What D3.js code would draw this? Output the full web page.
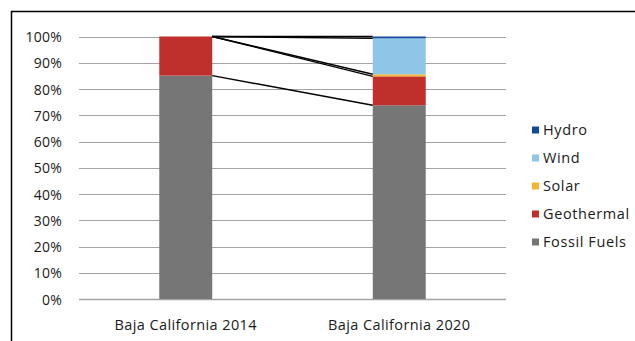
<!DOCTYPE html>
<html>
<head>
<meta charset="utf-8">
<script src="https://cdn.jsdelivr.net/npm/d3@7"></script>
<style>
  html, body { margin: 0; padding: 0; background: #fff; }
  svg { display: block; }
  text { font-family: "Open Sans", Lato, sans-serif; fill: #1a1a1a; }
</style>
</head>
<body>
<svg id="chart" width="635" height="341"></svg>
<script>
// Generation mix shares (%) for Baja California
const categories = ["Baja California 2014", "Baja California 2020"];
const seriesNames = ["Fossil Fuels", "Geothermal", "Solar", "Wind", "Hydro"];
const fossilFuels = [85.1, 73.8];
const geothermal = [14.9, 11.0];
const solar = [0.0, 0.8];
const wind = [0.0, 13.7];
const hydro = [0.0, 0.7];
const yTicks = [0, 10, 20, 30, 40, 50, 60, 70, 80, 90, 100];
const colors = ["#767676", "#bf2f2b", "#f6b334", "#8fc6e7", "#114a9c"];

const rows = categories.map((c, i) => ({
  category: c,
  "Fossil Fuels": fossilFuels[i],
  "Geothermal": geothermal[i],
  "Solar": solar[i],
  "Wind": wind[i],
  "Hydro": hydro[i]
}));

const svg = d3.select("#chart");
const margin = { left: 79, right: 129, top: 36.5, bottom: 42 };
const W = 635, H = 341;
const FONT = "'Open Sans', Lato, sans-serif";

const x = d3.scaleBand().domain(categories)
  .range([margin.left, W - margin.right]).paddingInner(0.752).paddingOuter(0.376);
const y = d3.scaleLinear().domain([0, 100]).range([H - margin.bottom, margin.top]);
const color = d3.scaleOrdinal().domain(seriesNames).range(colors);

// outer frame (top and left edges of the chart box)
svg.append("path")
  .attr("d", "M11.5,341 V11.5 H635")
  .attr("fill", "none").attr("stroke", "#000").attr("stroke-width", 1.5);

// horizontal gridlines
svg.append("g").selectAll("line").data(yTicks).join("line")
  .attr("x1", margin.left).attr("x2", W - margin.right)
  .attr("y1", d => Math.round(y(d)) + 0.5).attr("y2", d => Math.round(y(d)) + 0.5)
  .attr("stroke", "#a3a3a3").attr("stroke-width", d => d === 0 ? 1.5 : 1.2);

// y axis labels
const yAxis = d3.axisLeft(y).tickValues(yTicks).tickSize(0).tickPadding(0)
  .tickFormat(d => d + "%");
svg.append("g").attr("transform", `translate(${margin.left - 17},0)`).call(yAxis)
  .call(g => g.select(".domain").remove())
  .call(g => g.selectAll("text").attr("font-size", 14).attr("dy", "0.36em")
    .style("font-family", FONT).style("letter-spacing", "0.2px").attr("fill", "#1a1a1a"));

// stacked bars
const stacked = d3.stack().keys(seriesNames)(rows);
svg.append("g").selectAll("g").data(stacked).join("g")
  .attr("fill", d => color(d.key))
  .selectAll("rect").data(d => d).join("rect")
  .attr("x", d => x(d.data.category))
  .attr("width", x.bandwidth())
  .attr("y", d => y(d[1]))
  .attr("height", d => Math.max(0, y(d[0]) - y(d[1])));

// series lines joining the top of each segment between the bars
const lineGroup = svg.append("g");
stacked.forEach(s => {
  lineGroup.append("line")
    .attr("x1", x(categories[0]) + x.bandwidth())
    .attr("y1", y(s[0][1]))
    .attr("x2", x(categories[1]))
    .attr("y2", y(s[1][1]))
    .attr("stroke", "#000").attr("stroke-width", 1.4);
});

// category labels
const xAxis = d3.axisBottom(x).tickSize(0).tickPadding(0);
svg.append("g").attr("transform", `translate(0,${H - margin.bottom + 26})`).call(xAxis)
  .call(g => g.select(".domain").remove())
  .call(g => g.selectAll("text").attr("font-size", 14.5).attr("dy", "0.36em")
    .style("font-family", FONT).style("letter-spacing", "0.4px").attr("fill", "#1a1a1a"));

// legend (top entry is the top of the stack)
const legendItems = seriesNames.slice().reverse();
const legend = svg.append("g").attr("transform", "translate(532,130)");
const li = legend.selectAll("g").data(legendItems).join("g")
  .attr("transform", (d, i) => `translate(0,${i * 28})`);
li.append("rect").attr("x", 0).attr("y", -3.5).attr("width", 7).attr("height", 7)
  .attr("fill", d => color(d));
li.append("text").attr("x", 11).attr("dy", "0.36em").attr("font-size", 14.5)
  .style("letter-spacing", "0.6px")
  .text(d => d);
</script>
</body>
</html>
